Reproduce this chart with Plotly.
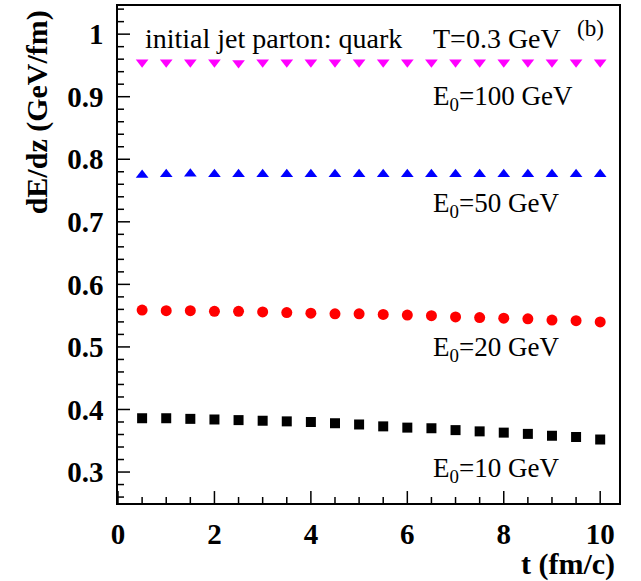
import plotly.graph_objects as go

# propagation time (fm/c)
t = [0.5, 1.0, 1.5, 2.0, 2.5, 3.0, 3.5, 4.0, 4.5, 5.0,
     5.5, 6.0, 6.5, 7.0, 7.5, 8.0, 8.5, 9.0, 9.5, 10.0]

# dE/dz (GeV/fm) for each initial jet energy
dedz_100 = [0.955, 0.955, 0.955, 0.955, 0.954, 0.955, 0.955, 0.955, 0.955, 0.955,
            0.955, 0.955, 0.955, 0.955, 0.955, 0.955, 0.955, 0.955, 0.955, 0.955]
dedz_50 = [0.775, 0.776, 0.777, 0.776, 0.776, 0.776, 0.776, 0.776, 0.776, 0.776,
           0.776, 0.776, 0.776, 0.776, 0.776, 0.776, 0.776, 0.776, 0.776, 0.776]
dedz_20 = [0.559, 0.558, 0.558, 0.557, 0.557, 0.556, 0.555, 0.554, 0.553, 0.553,
           0.552, 0.551, 0.550, 0.548, 0.547, 0.546, 0.545, 0.543, 0.542, 0.540]
dedz_10 = [0.386, 0.386, 0.385, 0.384, 0.383, 0.382, 0.381, 0.380, 0.378, 0.376,
           0.373, 0.371, 0.370, 0.367, 0.365, 0.363, 0.361, 0.358, 0.356, 0.352]

energy_labels = ["E<sub>0</sub>=100 GeV", "E<sub>0</sub>=50 GeV",
                 "E<sub>0</sub>=20 GeV", "E<sub>0</sub>=10 GeV"]

x_tickvals = [0, 2, 4, 6, 8, 10]
x_ticktext = ["0", "2", "4", "6", "8", "10"]
y_tickvals = [0.3, 0.4, 0.5, 0.6, 0.7, 0.8, 0.9, 1.0]
y_ticktext = ["0.3", "0.4", "0.5", "0.6", "0.7", "0.8", "0.9", "1"]

X_RANGE = [0, 10.39]
Y_RANGE = [0.2505, 1.045]
X_MINOR_STEP = 0.5
Y_MINOR_STEP = 0.02

WIDTH, HEIGHT = 641, 581
MARGIN = dict(l=118, r=22, t=4, b=78)
SERIF = "Liberation Serif"

series = [
    (dedz_100, "triangle-down", "#ff00ff", 11),
    (dedz_50, "triangle-up", "#0000ff", 11),
    (dedz_20, "circle", "#ff0000", 11),
    (dedz_10, "square", "#000000", 10),
]

fig = go.Figure()
for values, symbol, color, size in series:
    fig.add_trace(go.Scatter(
        x=t, y=values, mode="markers",
        marker=dict(symbol=symbol, color=color, size=size, line=dict(width=0)),
        showlegend=False,
    ))

tick_font = dict(family=SERIF, size=29, color="black", weight="bold")
axis_style = dict(
    showline=True, linecolor="black", linewidth=1.5, mirror=True,
    showgrid=False, zeroline=False, tickfont=tick_font, ticks="",
)
fig.update_xaxes(range=X_RANGE, tickmode="array", tickvals=x_tickvals,
                 ticktext=x_ticktext, ticklabelstandoff=4, **axis_style)
fig.update_yaxes(range=Y_RANGE, tickmode="array", tickvals=y_tickvals,
                 ticktext=y_ticktext, ticklabelstandoff=7, **axis_style)


def grid_values(lo, hi, step):
    """Tick positions on a regular step inside [lo, hi]."""
    vals = []
    k = 0
    while k * step <= hi + 1e-9:
        if k * step >= lo - 1e-9:
            vals.append(round(k * step, 6))
        k += 1
    return vals


# data units per screen pixel, used to size the tick marks
plot_w = WIDTH - MARGIN["l"] - MARGIN["r"]
plot_h = HEIGHT - MARGIN["t"] - MARGIN["b"]
x_per_px = (X_RANGE[1] - X_RANGE[0]) / plot_w
y_per_px = (Y_RANGE[1] - Y_RANGE[0]) / plot_h

# inward-pointing ticks on the bottom and left axes (major long, minor short)
shapes = []
for v in grid_values(X_RANGE[0], X_RANGE[1], X_MINOR_STEP):
    length = 12 if any(abs(v - m) < 1e-6 for m in x_tickvals) else 6
    shapes.append(dict(type="line", xref="x", yref="y", x0=v, x1=v,
                       y0=Y_RANGE[0], y1=Y_RANGE[0] + length * y_per_px,
                       line=dict(color="black", width=1.5), layer="above"))
for v in grid_values(Y_RANGE[0], Y_RANGE[1], Y_MINOR_STEP):
    length = 12 if any(abs(v - m) < 1e-6 for m in y_tickvals) else 6
    shapes.append(dict(type="line", xref="x", yref="y", y0=v, y1=v,
                       x0=X_RANGE[0], x1=X_RANGE[0] + length * x_per_px,
                       line=dict(color="black", width=1.5), layer="above"))

text_font = dict(family=SERIF, size=28, color="black")
annotations = [
    dict(x=0.049, y=0.935, text="initial jet parton: quark", xanchor="left", yanchor="middle"),
    dict(x=0.624, y=0.935, text="T=0.3 GeV", xanchor="left", yanchor="middle"),
    dict(x=0.912, y=0.955, text="(b)", xanchor="left", yanchor="middle",
         font=dict(family=SERIF, size=23, color="black")),
]
label_y = [0.815, 0.600, 0.310, 0.066]
for label, ly in zip(energy_labels, label_y):
    annotations.append(dict(x=0.624, y=ly, text=label, xanchor="left", yanchor="middle",
                            font=dict(family=SERIF, size=27, color="black")))

# axis titles, aligned to the far ends of each axis
annotations.append(dict(
    x=0.997, y=-0.122, text="t (fm/c)", xanchor="right", yanchor="middle",
    font=dict(family=SERIF, size=30, color="black", weight="bold")))
annotations.append(dict(
    x=-0.16, y=0.995, text="dE/dz (GeV/fm)", textangle=-90, xanchor="center", yanchor="top",
    font=dict(family=SERIF, size=30, color="black", weight="bold")))

for a in annotations:
    a.setdefault("font", text_font)
    a.update(xref="paper", yref="paper", showarrow=False)

fig.update_layout(
    width=WIDTH, height=HEIGHT,
    margin=MARGIN,
    paper_bgcolor="white", plot_bgcolor="white",
    annotations=annotations, shapes=shapes,
)

fig.write_html("out.html")
